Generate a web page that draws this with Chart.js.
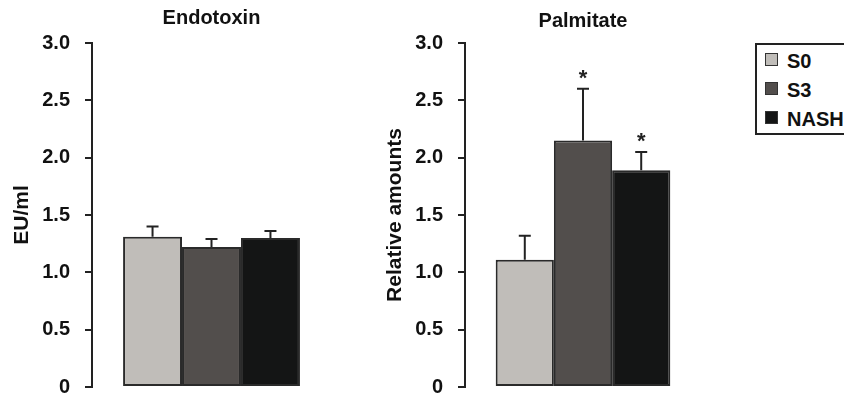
<!DOCTYPE html>
<html lang="en">

<head>
  <meta charset="UTF-8" />
  <script src="https://cdn.jsdelivr.net/npm/chart.js"></script>
  <title>Endotoxin / Palmitate</title>
  <style>
    html, body { margin: 0; padding: 0; background: #fff; width: 844px; height: 394px; overflow: hidden; }
    .box { position: absolute; top: 0; width: 340px; height: 414px; }
    #box_endo { left: 0; }
    #box_palm { left: 370px; }
    .legenda {
      position: absolute; left: 755px; top: 43px; width: 100px; height: 88px;
      border: 2px solid #222; font: bold 20px "Liberation Sans", Arial, sans-serif; color: #111;
    }
    .item { position: absolute; left: 8px; height: 24px; line-height: 24px; }
    .item span.cor { position: absolute; left: 0; top: 4px; width: 11px; height: 11px; border: 1.5px solid #333; }
    .item span.txt { position: absolute; left: 22px; top: 0; white-space: nowrap; }
  </style>
</head>

<body>
  <div class="box" id="box_endo"><canvas id="grafico_endo"></canvas></div>
  <div class="box" id="box_palm"><canvas id="grafico_palm"></canvas></div>

  <div class="legenda" id="legenda"></div>
</body>

</html>

<script>
  // dados
  const grupos = ["S0", "S3", "NASH"];
  const cores = ["#c0bdb9", "#524e4c", "#141515"];

  const endotoxina = [1.31, 1.22, 1.30];
  const endotoxinaErro = [0.09, 0.07, 0.06];
  const endotoxinaSig = [false, false, false];

  const palmitato = [1.11, 2.15, 1.89];
  const palmitatoErro = [0.21, 0.45, 0.16];
  const palmitatoSig = [false, true, true];

  const yTicks = [0, 0.5, 1.0, 1.5, 2.0, 2.5, 3.0];

  const fonte = "'Liberation Sans', Arial, sans-serif";

  // barras de erro + asterisco
  const barrasErro = {
    id: "barrasErro",
    afterDatasetsDraw(chart, args, opts) {
      const ctx = chart.ctx;
      const y = chart.scales.y;
      ctx.save();
      ctx.strokeStyle = "#222";
      ctx.fillStyle = "#222";
      ctx.lineWidth = 2;
      chart.data.datasets.forEach(function (ds, i) {
        const bar = chart.getDatasetMeta(i).data[0];
        const topo = y.getPixelForValue(ds.data[0] + opts.erros[i]);
        ctx.beginPath();
        ctx.moveTo(bar.x, bar.y);
        ctx.lineTo(bar.x, topo);
        ctx.moveTo(bar.x - 6, topo);
        ctx.lineTo(bar.x + 6, topo);
        ctx.stroke();
        if (opts.sig[i]) {
          ctx.font = "bold 22px " + fonte;
          ctx.textAlign = "center";
          ctx.textBaseline = "alphabetic";
          ctx.fillText("*", bar.x, topo - 4);
        }
      });
      ctx.restore();
    }
  };

  function montarGrafico(id, titulo, tituloY, valores, erros, sig, larguraY, padTitulo, padTituloY) {
    const ctx = document.getElementById(id).getContext("2d");
    return new Chart(ctx, {
      type: "bar",
      data: {
        labels: [titulo],
        datasets: grupos.map(function (g, i) {
          return {
            label: g,
            data: [valores[i]],
            backgroundColor: cores[i],
            borderColor: "#2a2a2a",
            borderWidth: 2,
            borderSkipped: false,
            barPercentage: 1,
            categoryPercentage: 0.74
          };
        })
      },
      options: {
        responsive: true,
        maintainAspectRatio: false,
        animation: false,
        layout: { padding: { left: 0, right: 9, top: 0, bottom: 2 } },
        plugins: {
          legend: { display: false },
          tooltip: { enabled: false },
          title: {
            display: true,
            text: titulo,
            fullSize: false,
            color: "#111",
            font: { family: fonte, size: 20, weight: "bold" },
            padding: padTitulo
          },
          barrasErro: { erros: erros, sig: sig }
        },
        scales: {
          x: { display: false },
          y: {
            min: 0,
            max: 3,
            afterFit: function (scale) { scale.width = larguraY; },
            afterBuildTicks: function (scale) { scale.ticks = yTicks.map(v => ({ value: v })); },
            ticks: {
              color: "#111",
              padding: 15,
              font: { family: fonte, size: 20, weight: "bold" },
              callback: v => (v === 0 ? "0" : v.toFixed(1))
            },
            grid: { drawOnChartArea: false, drawTicks: true, tickLength: 7, color: "#222", lineWidth: 2 },
            border: { display: true, color: "#222", width: 2 },
            title: {
              display: true,
              text: tituloY,
              color: "#111",
              font: { family: fonte, size: 21, weight: "bold" },
              padding: padTituloY
            }
          }
        }
      },
      plugins: [barrasErro]
    });
  }

  montarGrafico("grafico_endo", "Endotoxin", "EU/ml", endotoxina, endotoxinaErro, endotoxinaSig,
    92, { top: 6, bottom: 13 }, { top: 10, bottom: 4 });
  montarGrafico("grafico_palm", "Palmitate", "Relative amounts", palmitato, palmitatoErro, palmitatoSig,
    95, { top: 9, bottom: 10 }, { top: 13, bottom: 4 });

  // legenda
  const legenda = document.getElementById("legenda");
  grupos.forEach(function (g, i) {
    const item = document.createElement("div");
    item.className = "item";
    item.style.top = (4 + i * 29) + "px";
    item.innerHTML = `<span class="cor" style="background:${cores[i]}"></span><span class="txt">${g}</span>`;
    legenda.appendChild(item);
  });
</script>
